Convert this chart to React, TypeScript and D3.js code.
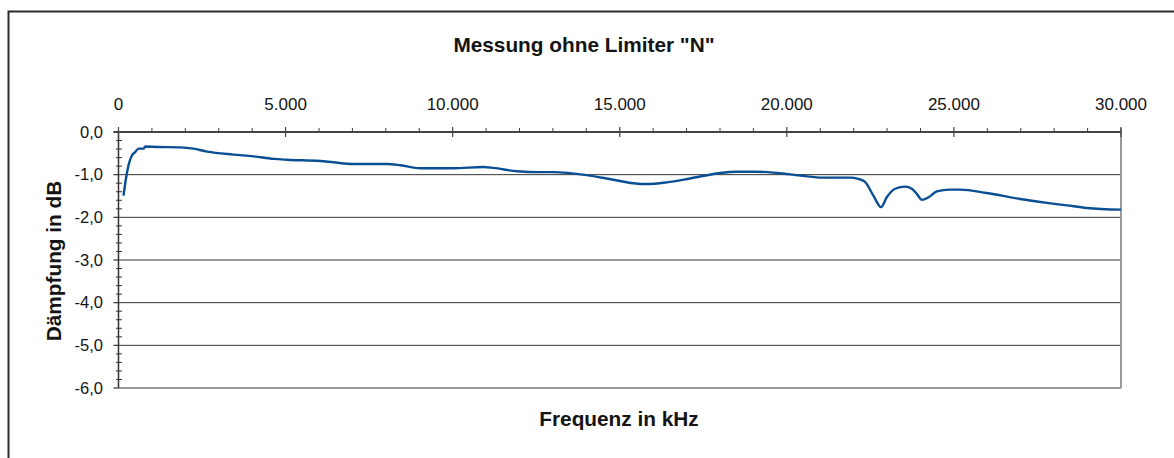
import React from "react";
import * as d3 from "d3";

const freqHz = [150, 230, 300, 400, 500, 600, 750, 800, 1150, 1850, 2240, 2650, 3440, 4040, 4640, 5040, 6030, 6430, 7030, 8030, 8440, 9030, 10020, 10920, 11220, 11920, 12620, 13010, 14010, 14810, 15410, 15810, 16410, 17100, 18000, 18500, 19100, 19700, 20400, 21090, 21890, 22140, 22340, 22590, 22820, 22990, 23240, 23540, 23740, 23890, 24040, 24240, 24490, 24880, 25180, 25980, 26980, 27780, 28380, 28980, 30000];
const dampingDb = [-1.49, -1.06, -0.78, -0.55, -0.47, -0.39, -0.39, -0.34, -0.35, -0.36, -0.39, -0.46, -0.53, -0.57, -0.63, -0.65, -0.68, -0.71, -0.75, -0.75, -0.78, -0.85, -0.85, -0.82, -0.84, -0.92, -0.94, -0.94, -1.01, -1.12, -1.2, -1.22, -1.18, -1.09, -0.96, -0.93, -0.93, -0.96, -1.02, -1.07, -1.07, -1.1, -1.17, -1.49, -1.76, -1.53, -1.33, -1.28, -1.33, -1.45, -1.59, -1.53, -1.39, -1.35, -1.35, -1.43, -1.57, -1.66, -1.72, -1.78, -1.82];

const xTickValues = [0, 5000, 10000, 15000, 20000, 25000, 30000];
const xTickLabels = ["0", "5.000", "10.000", "15.000", "20.000", "25.000", "30.000"];
const yTickValues = [0, -1, -2, -3, -4, -5, -6];
const yTickLabels = ["0,0", "-1,0", "-2,0", "-3,0", "-4,0", "-5,0", "-6,0"];

const title = 'Messung ohne Limiter "N"';
const xTitle = "Frequenz in kHz";
const yTitle = "Dämpfung in dB";

export default function App() {
  const W = 1174, H = 458;
  const left = 118.5, right = 1121, top = 132, bottom = 388;
  const x = d3.scaleLinear().domain([0, 30000]).range([left, right]);
  const y = d3.scaleLinear().domain([0, -6]).range([top, bottom]);
  const minorX = d3.range(0, 30001, 1000).filter((v) => v % 5000 !== 0);
  const minorY = d3.range(0, -6.0001, -0.2).filter((v) => Math.abs(v - Math.round(v)) > 1e-6);
  const data = freqHz.map((f, i) => [f, dampingDb[i]] as [number, number]);
  const line = d3.line<[number, number]>().x((d) => x(d[0])).y((d) => y(d[1])).curve(d3.curveMonotoneX);
  const font = "'Liberation Sans', Arial, sans-serif";

  return (
    <svg width={W} height={H} style={{ position: "absolute", left: 0, top: 0, background: "#fff" }} fontFamily={font}>
      <rect x={0} y={0} width={W} height={H} fill="#fff" />
      <rect x={8.5} y={11.5} width={W + 20} height={H + 20} fill="none" stroke="#2a2a2a" strokeWidth={2} />
      <text x={584} y={52} textAnchor="middle" fontSize={20.8} fontWeight="bold" fill="#141414">{title}</text>

      {yTickValues.filter((v) => v !== 0 && v !== -6).map((v) => (
        <line key={"g" + v} x1={left} x2={right} y1={y(v)} y2={y(v)} stroke="#333" strokeWidth={1} />
      ))}
      <line x1={left} x2={right} y1={bottom} y2={bottom} stroke="#9a9a9a" strokeWidth={2} />
      <line x1={right} x2={right} y1={top - 4} y2={bottom} stroke="#9a9a9a" strokeWidth={2} />

      <line x1={left} x2={left} y1={top} y2={bottom} stroke="#333" strokeWidth={1.5} />
      {yTickValues.map((v) => (
        <line key={"yt" + v} x1={left - 5} x2={left} y1={y(v)} y2={y(v)} stroke="#333" strokeWidth={1.2} />
      ))}
      {minorY.map((v) => (
        <line key={"ym" + v} x1={left - 2.5} x2={left + 3.5} y1={y(v)} y2={y(v)} stroke="#333" strokeWidth={1} />
      ))}
      {yTickValues.map((v, i) => (
        <text key={"yl" + v} x={103} y={y(v)} dy="0.35em" textAnchor="end" fontSize={16.5} fill="#141414">{yTickLabels[i]}</text>
      ))}
      <text transform={`translate(61,261) rotate(-90)`} textAnchor="middle" fontSize={20.8} fontWeight="bold" fill="#141414">{yTitle}</text>

      <line x1={left - 5} x2={right} y1={top} y2={top} stroke="#444" strokeWidth={1.8} />
      {xTickValues.map((v) => (
        <line key={"xt" + v} x1={x(v)} x2={x(v)} y1={top - 5} y2={top + 5} stroke="#444" strokeWidth={1.2} />
      ))}
      {minorX.map((v) => (
        <line key={"xm" + v} x1={x(v)} x2={x(v)} y1={top - 4} y2={top} stroke="#444" strokeWidth={1} />
      ))}
      {xTickValues.map((v, i) => (
        <text key={"xl" + v} x={x(v)} y={110} textAnchor="middle" fontSize={17} fill="#141414">{xTickLabels[i]}</text>
      ))}

      <path d={line(data) || ""} fill="none" stroke="#0a4f94" strokeWidth={2.4} strokeLinejoin="round" />

      <text x={619} y={426} textAnchor="middle" fontSize={20.8} fontWeight="bold" fill="#141414">{xTitle}</text>
    </svg>
  );
}
